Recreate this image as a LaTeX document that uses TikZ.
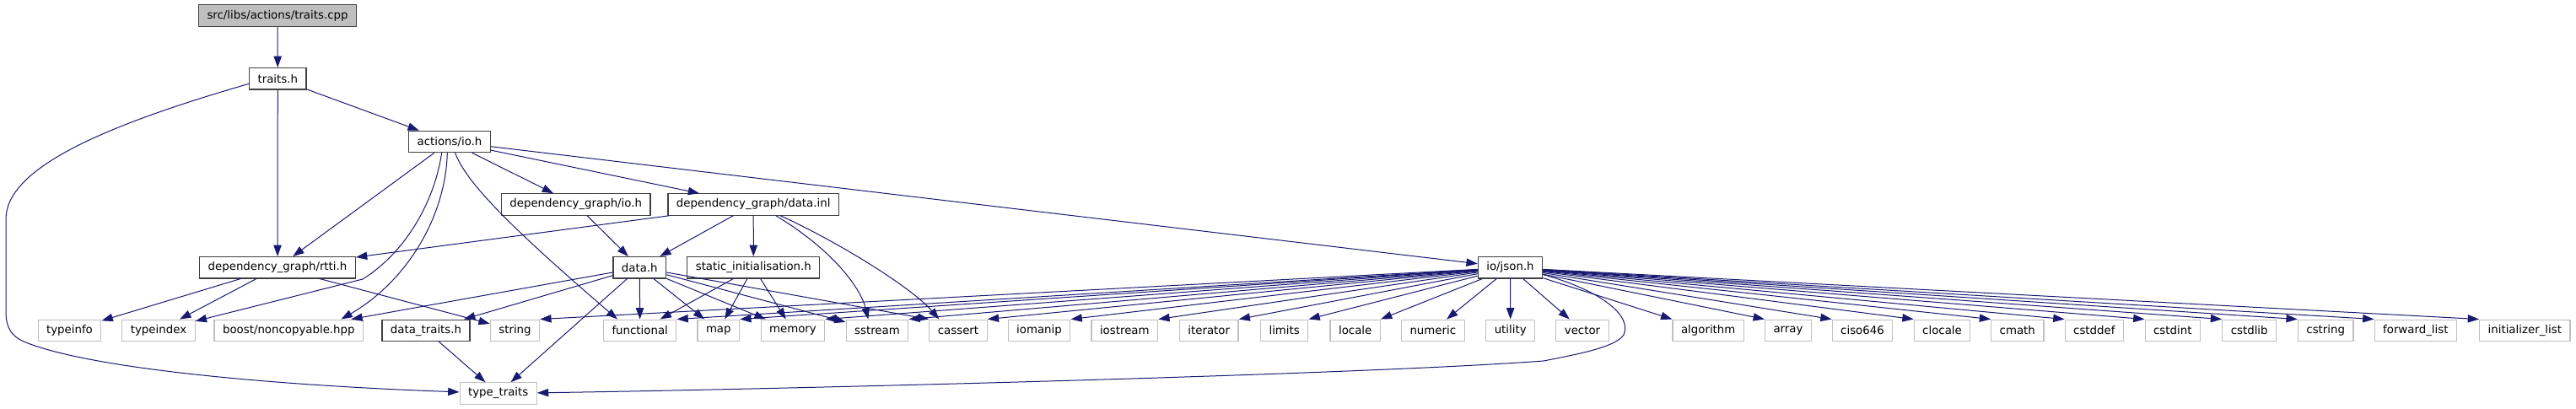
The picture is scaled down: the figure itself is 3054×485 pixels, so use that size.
\documentclass[tikz,border=0pt]{standalone}
\usepackage{fontspec}
\setmainfont{DejaVu Sans}
\usetikzlibrary{arrows.meta}

\definecolor{edgeblue}{HTML}{191970}
\definecolor{boxgray}{HTML}{BFBFBF}
\definecolor{boxdark}{HTML}{404040}

\begin{document}
\begin{tikzpicture}[x=0.75pt, y=-0.75pt, font=\fontsize{10}{12}\selectfont,
  hdr/.style={draw=boxdark, line width=0.9pt, fill=white, minimum height=19pt, inner xsep=7.5pt, inner ysep=0pt},
  sys/.style={hdr, draw=boxgray},
  root/.style={hdr, fill=boxgray},
  inc/.style={draw=edgeblue, line width=0.75pt, -{Triangle[length=10pt, width=7pt]}}]
\useasboundingbox (0,0) rectangle (3054,485);
% project headers
\node[root] (cpp) at (329,18.5) {src/libs/actions/traits.cpp};
\node[hdr] (traitsh) at (329.3,93.3) {traits.h};
\node[hdr] (actio) at (533,168) {actions/io.h};
\node[hdr] (dgio) at (682.7,242.5) {dependency\_graph/io.h};
\node[hdr] (dginl) at (893.2,242.5) {dependency\_graph/data.inl};
\node[hdr] (rtti) at (329,317.3) {dependency\_graph/rtti.h};
\node[hdr] (datah) at (758.3,317.3) {data.h};
\node[hdr] (statinit) at (893.3,317.3) {static\_initialisation.h};
\node[hdr] (jsonh) at (1790.5,317.3) {io/json.h};
\node[hdr] (dtraits) at (505,391.8) {data\_traits.h};
\node[sys] (typetraits) at (590.7,466.5) {type\_traits};
% system headers
\foreach \n/\x/\t in {typeinfo/82.5/typeinfo, typeindex/188/typeindex, noncopy/342.3/{boost/noncopyable.hpp},
  string/610.5/string, functional/758.7/functional, map/851.8/map, memory/940/memory, sstream/1040/sstream,
  cassert/1136/cassert, iomanip/1232/iomanip, iostream/1333.3/iostream, iterator/1433.2/iterator,
  limits/1522.7/limits, locale/1606.7/locale, numeric/1698.8/numeric, utility/1790.7/utility,
  vector/1876/vector, algorithm/2025.2/algorithm, array/2120/array, ciso646/2208/ciso646,
  clocale/2302.5/clocale, cmath/2391.8/cmath, cstddef/2482.8/cstddef, cstdint/2575.8/cstdint,
  cstdlib/2666.7/cstdlib, cstring/2757.2/cstring, fwdlist/2863.8/forward\_list, initlist/2993.3/initializer\_list}
  \node[sys] (\n) at (\x,391.8) {\t};
% includes
\draw[inc] (cpp) -- (traitsh);
\foreach \a/\b in {traitsh/actio, traitsh/rtti, actio/dgio, actio/dginl, actio/jsonh, actio/rtti, dgio/datah,
  dginl/rtti, dginl/datah, dginl/statinit, rtti/typeinfo, rtti/typeindex, rtti/string, datah/noncopy,
  datah/dtraits, datah/typetraits, datah/functional, datah/map, datah/memory, datah/sstream,
  statinit/functional, statinit/map, statinit/memory, dtraits/typetraits}
  \draw[inc] (\a) -- (\b);
\draw[inc] (datah) -- (cassert.north west);
\draw[inc] (traitsh.190) .. controls (120,150) and (7,200) .. (7,260) -- (7,370)
  .. controls (7,395) and (20,402) .. (33,407) .. controls (120,440) and (350,458) .. (typetraits);
\draw[inc] ([xshift=-7pt]actio.south) .. controls (515,240) and (480,300) .. (430,331) -- (typeindex);
\draw[inc] ([xshift=-2pt]actio.south) .. controls (528,260) and (480,335) .. ([xshift=-20pt]noncopy.north east);
\draw[inc] ([xshift=5pt]actio.south) .. controls (552,215) and (600,265) .. ([xshift=-20pt]functional.north);
\draw[inc] ([xshift=20pt]dginl.south) .. controls (985,295) and (1020,340) .. ([xshift=-8pt]sstream.north);
\draw[inc] ([xshift=24pt]dginl.south) .. controls (990,285) and (1080,340) .. ([xshift=-17pt]cassert.north);
% io/json.h fan
\foreach \b in {string, functional, map, memory, sstream, cassert, iomanip, iostream, iterator, limits, locale}
  \draw[inc] (jsonh) -- (\b.north east);
\foreach \b in {numeric, utility, vector}
  \draw[inc] (jsonh) -- (\b);
\foreach \b in {algorithm, array, ciso646, clocale, cmath, cstddef, cstdint, cstdlib, cstring, fwdlist, initlist}
  \draw[inc] (jsonh) -- (\b.north west);
\draw[inc] (jsonh.-12) .. controls (1900,345) and (1935,375) .. (1925,397)
  .. controls (1915,412) and (1870,420) .. (1830,428) .. controls (1600,445) and (900,462) .. (typetraits);
\end{tikzpicture}
\end{document}
